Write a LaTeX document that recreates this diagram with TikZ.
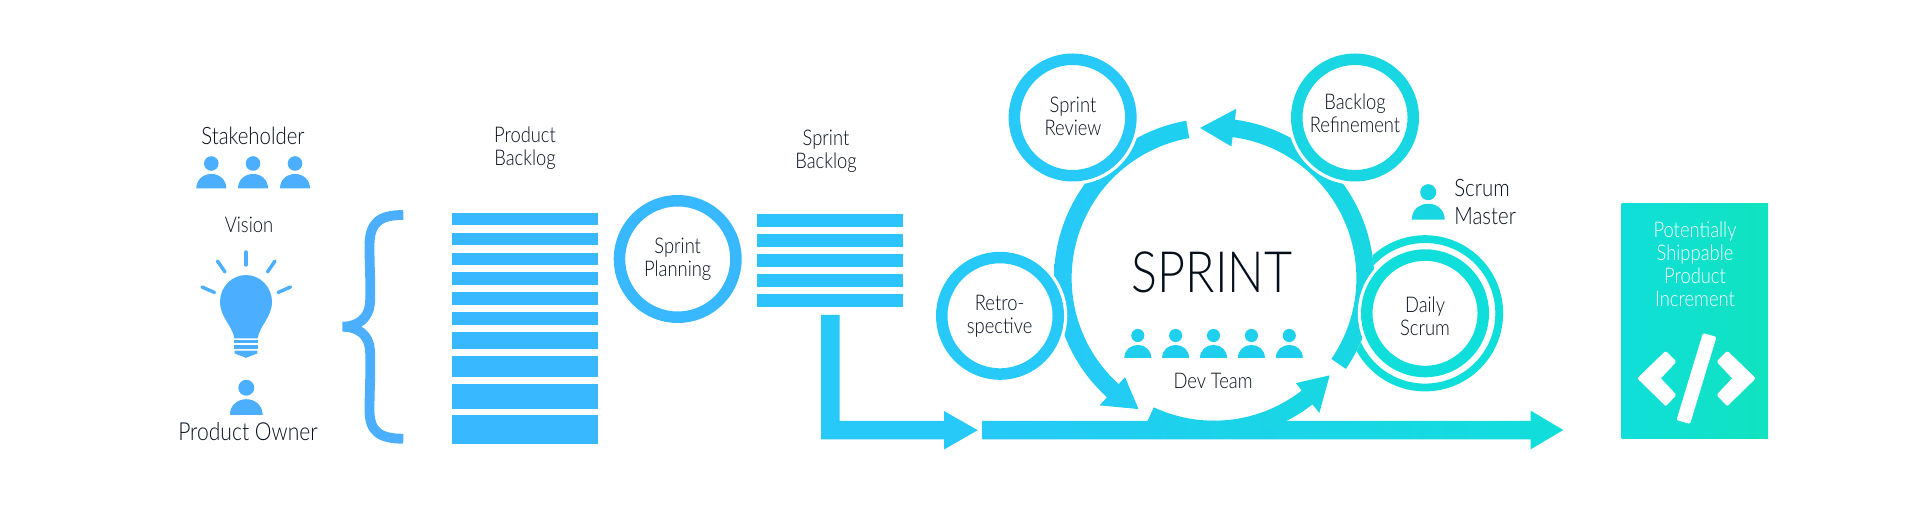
\documentclass[tikz,border=0pt]{standalone}
\usepackage{fontspec}
\setmainfont[FakeStretch=0.85]{Lato Light}
\definecolor{ink}{HTML}{050F1C}
\definecolor{cA}{HTML}{4BAEFF}
\definecolor{cB}{HTML}{38B9FF}
\definecolor{cC}{HTML}{2CC3FF}
\definecolor{cD}{HTML}{26C9F8}
\definecolor{cE}{HTML}{1ED0EE}
\definecolor{cF}{HTML}{18D7E2}
\definecolor{cG}{HTML}{10DEDA}
\definecolor{cH}{HTML}{10E3BE}
\tikzset{
  lbl/.style={font=\fontsize{10.8}{11.5}\selectfont,text=ink,align=center,inner sep=0pt},
  lblbig/.style={font=\fontsize{12}{13.8}\selectfont,text=ink,align=left,inner sep=0pt,anchor=west},
  ring/.style={circle,draw=#1,line width=5.75pt,fill=white,minimum size=58.25pt,inner sep=0pt,outer sep=0pt,
    preaction={draw=white,line width=9pt}},
  person/.pic={
    \fill (0,-25) circle[radius=7.3];
    \fill (-15,0) .. controls (-15,-9) and (-8,-14.5) .. (0,-14.5) .. controls (8,-14.5) and (15,-9) .. (15,0) -- cycle;
  }
}
\newcommand{\sprintarc}[6]{%
  \shade[left color=#1,right color=#2]
    plot[domain=#3:#4,samples=50] ({1214+160*cos(\x)},{278.3-160*sin(\x)})
    -- ({1214+171*cos(#4)},{278.3-171*sin(#4)})
    -- ({1214+151*cos(#5)},{278.3-151*sin(#5)})
    -- ({1214+133*cos(#4)},{278.3-133*sin(#4)})
    -- plot[domain=#4:#3,samples=50] ({1214+142.4*cos(\x)},{278.3-142.4*sin(\x)})
    -- cycle;}
\begin{document}
\begin{tikzpicture}[x=0.5pt,y=-0.5pt]
\useasboundingbox (0,0) rectangle (1920,517);
\fill[white] (0,0) rectangle (1920,517);

% left column
\node[lbl,font=\fontsize{12}{13}\selectfont] (stake) at (253,136) {Stakeholder};
\foreach \px in {211.3,253,295} \pic[cA] at (\px,188.5) {person};
\node[lbl] (vision) at (249,225) {Vision};
\fill[cA] (234.5,338.5) .. controls (232,325) and (220,317) .. (220,301.7)
  .. controls (220,287) and (232,275) .. (246,275)
  .. controls (260,275) and (272,287) .. (272,301.7)
  .. controls (272,317) and (260,325) .. (257.5,338.5) -- cycle;
\fill[cA] (234,340) rectangle (258,343.3);
\fill[cA] (234,345.5) rectangle (258,348.7);
\fill[cA] (234.7,350.7) -- (257.3,350.7) -- (257.3,353.5) -- (246,357.8) -- (234.7,353.5) -- cycle;
\begin{scope}[cA,line width=1.7pt,line cap=round]
  \draw (246,252) -- (246,265);
  \draw (217.5,261) -- (225,272);
  \draw (275,261) -- (267.5,272);
  \draw (202,287) -- (214.5,292.5);
  \draw (290.5,287) -- (278,292.5);
\end{scope}
\pic[cA,scale=1.09] at (246.3,415) {person};
\node[lbl,font=\fontsize{12.4}{13}\selectfont] (po) at (248,432) {Product Owner};

% brace
\draw[cA,line width=4.9pt] (403.3,215) .. controls (380,215) and (369.5,222) .. (369.5,246)
  .. controls (369.5,270) and (371,285) .. (370,303)
  .. controls (369,318) and (358,326.7) .. (342.7,326.7)
  .. controls (358,326.7) and (369,335) .. (370,350)
  .. controls (371,370) and (369.5,390) .. (369.5,410)
  .. controls (369.5,432) and (380,438.7) .. (403.3,438.7);

% product backlog
\node[lbl] (pb) at (525,148) {Product\\Backlog};
\foreach \a/\b in {212.7/225.3,232.7/245.3,252.7/265.3,272.3/285,292.3/305,312/325,332/349.3,355.7/376.7,384/408.7,415/444.3}
  \fill[cB] (452,\a) rectangle (598,\b);

% sprint planning
\node[ring=cB] (planning) at (677.7,259) {};
\node[lbl] (planninglbl) at (677.7,259) {Sprint\\Planning};

% sprint backlog
\node[lbl] (sb) at (826,151.5) {Sprint\\Backlog};
\foreach \a/\b in {214/227,234/247,254/267,274/287,294/307}
  \fill[cC] (756.7,\a) rectangle (903,\b);

% daily scrum outer ring, hidden where the sprint circle passes
\draw[cG,line width=3.9pt] (1425,313.3) circle[radius=74.2];
\fill[white] (1214,278.3) circle[radius=160];

% arrows
\coordinate (lstart) at (830.3,315);
\fill[cD] (821,315) -- (839.7,315) -- (839.7,421) -- (944,421) -- (944,411) -- (977.7,430.2) -- (944,449.5) -- (944,439.3) -- (821,439.3) -- cycle;
\shade[left color=cD,right color=cG] (982.5,421) -- (1530.7,421) -- (1530.7,410.7) -- (1563.3,430) -- (1530.7,449.3) -- (1530.7,439.3) -- (982.5,439.3) -- cycle;
\sprintarc{cD}{cE}{100}{228}{240}{}
\sprintarc{cE}{cF}{245}{308}{320}{}
\sprintarc{cE}{cF}{325.5}{442.5}{455.3}{}

% sprint rituals
\node[ring=cD] (review) at (1072.6,117.5) {};
\node[lbl] (reviewlbl) at (1073,116.8) {Sprint\\Review};
\node[ring=cF] (refine) at (1355,117.5) {};
\node[lbl] (refinelbl) at (1355,113.2) {Backlog\\Refinement};
\node[ring=cD] (retro) at (1000,315.8) {};
\node[lbl] (retrolbl) at (999.6,316) {Retro-\\spective};
\node[ring=cG] (daily) at (1425,313.3) {};
\node[lbl] (dailylbl) at (1425,316) {Daily\\Scrum};

% sprint centre
\node[font=\fontsize{28.5}{30}\selectfont,text=ink,inner sep=0pt] (sprint) at (1212,272.8) {SPRINT};
\foreach \px in {1137.8,1175.6,1213.5,1251.4,1289.3} \pic[cE,scale=0.9] at (\px,358) {person};
\node[lbl] (dev) at (1213,380.7) {Dev Team};

% scrum master
\pic[cF,scale=1.1] at (1428.2,219.7) {person};
\node[lblbig] (sm) at (1454,202) {Scrum\\Master};

% increment
\shade[left color=cG,right color=cH] (1621.7,204) rectangle (1768,438.7);
\node[lbl,text=white] (inc) at (1695,264) {Potentially\\Shippable\\Product\\Increment};
\begin{scope}[white,line width=1.6pt,line join=round]
  \filldraw (1704,335) -- (1714.5,338) -- (1689,422) -- (1678.5,419) -- cycle;
  \filldraw (1639.5,378.3) -- (1665.7,353) -- (1674.3,361.7) -- (1658.7,378.3) -- (1674.3,395) -- (1665.7,404) -- cycle;
  \filldraw (1753.5,378.3) -- (1727.3,353) -- (1718.7,361.7) -- (1734.3,378.3) -- (1718.7,395) -- (1727.3,404) -- cycle;
\end{scope}
\end{tikzpicture}
\end{document}
